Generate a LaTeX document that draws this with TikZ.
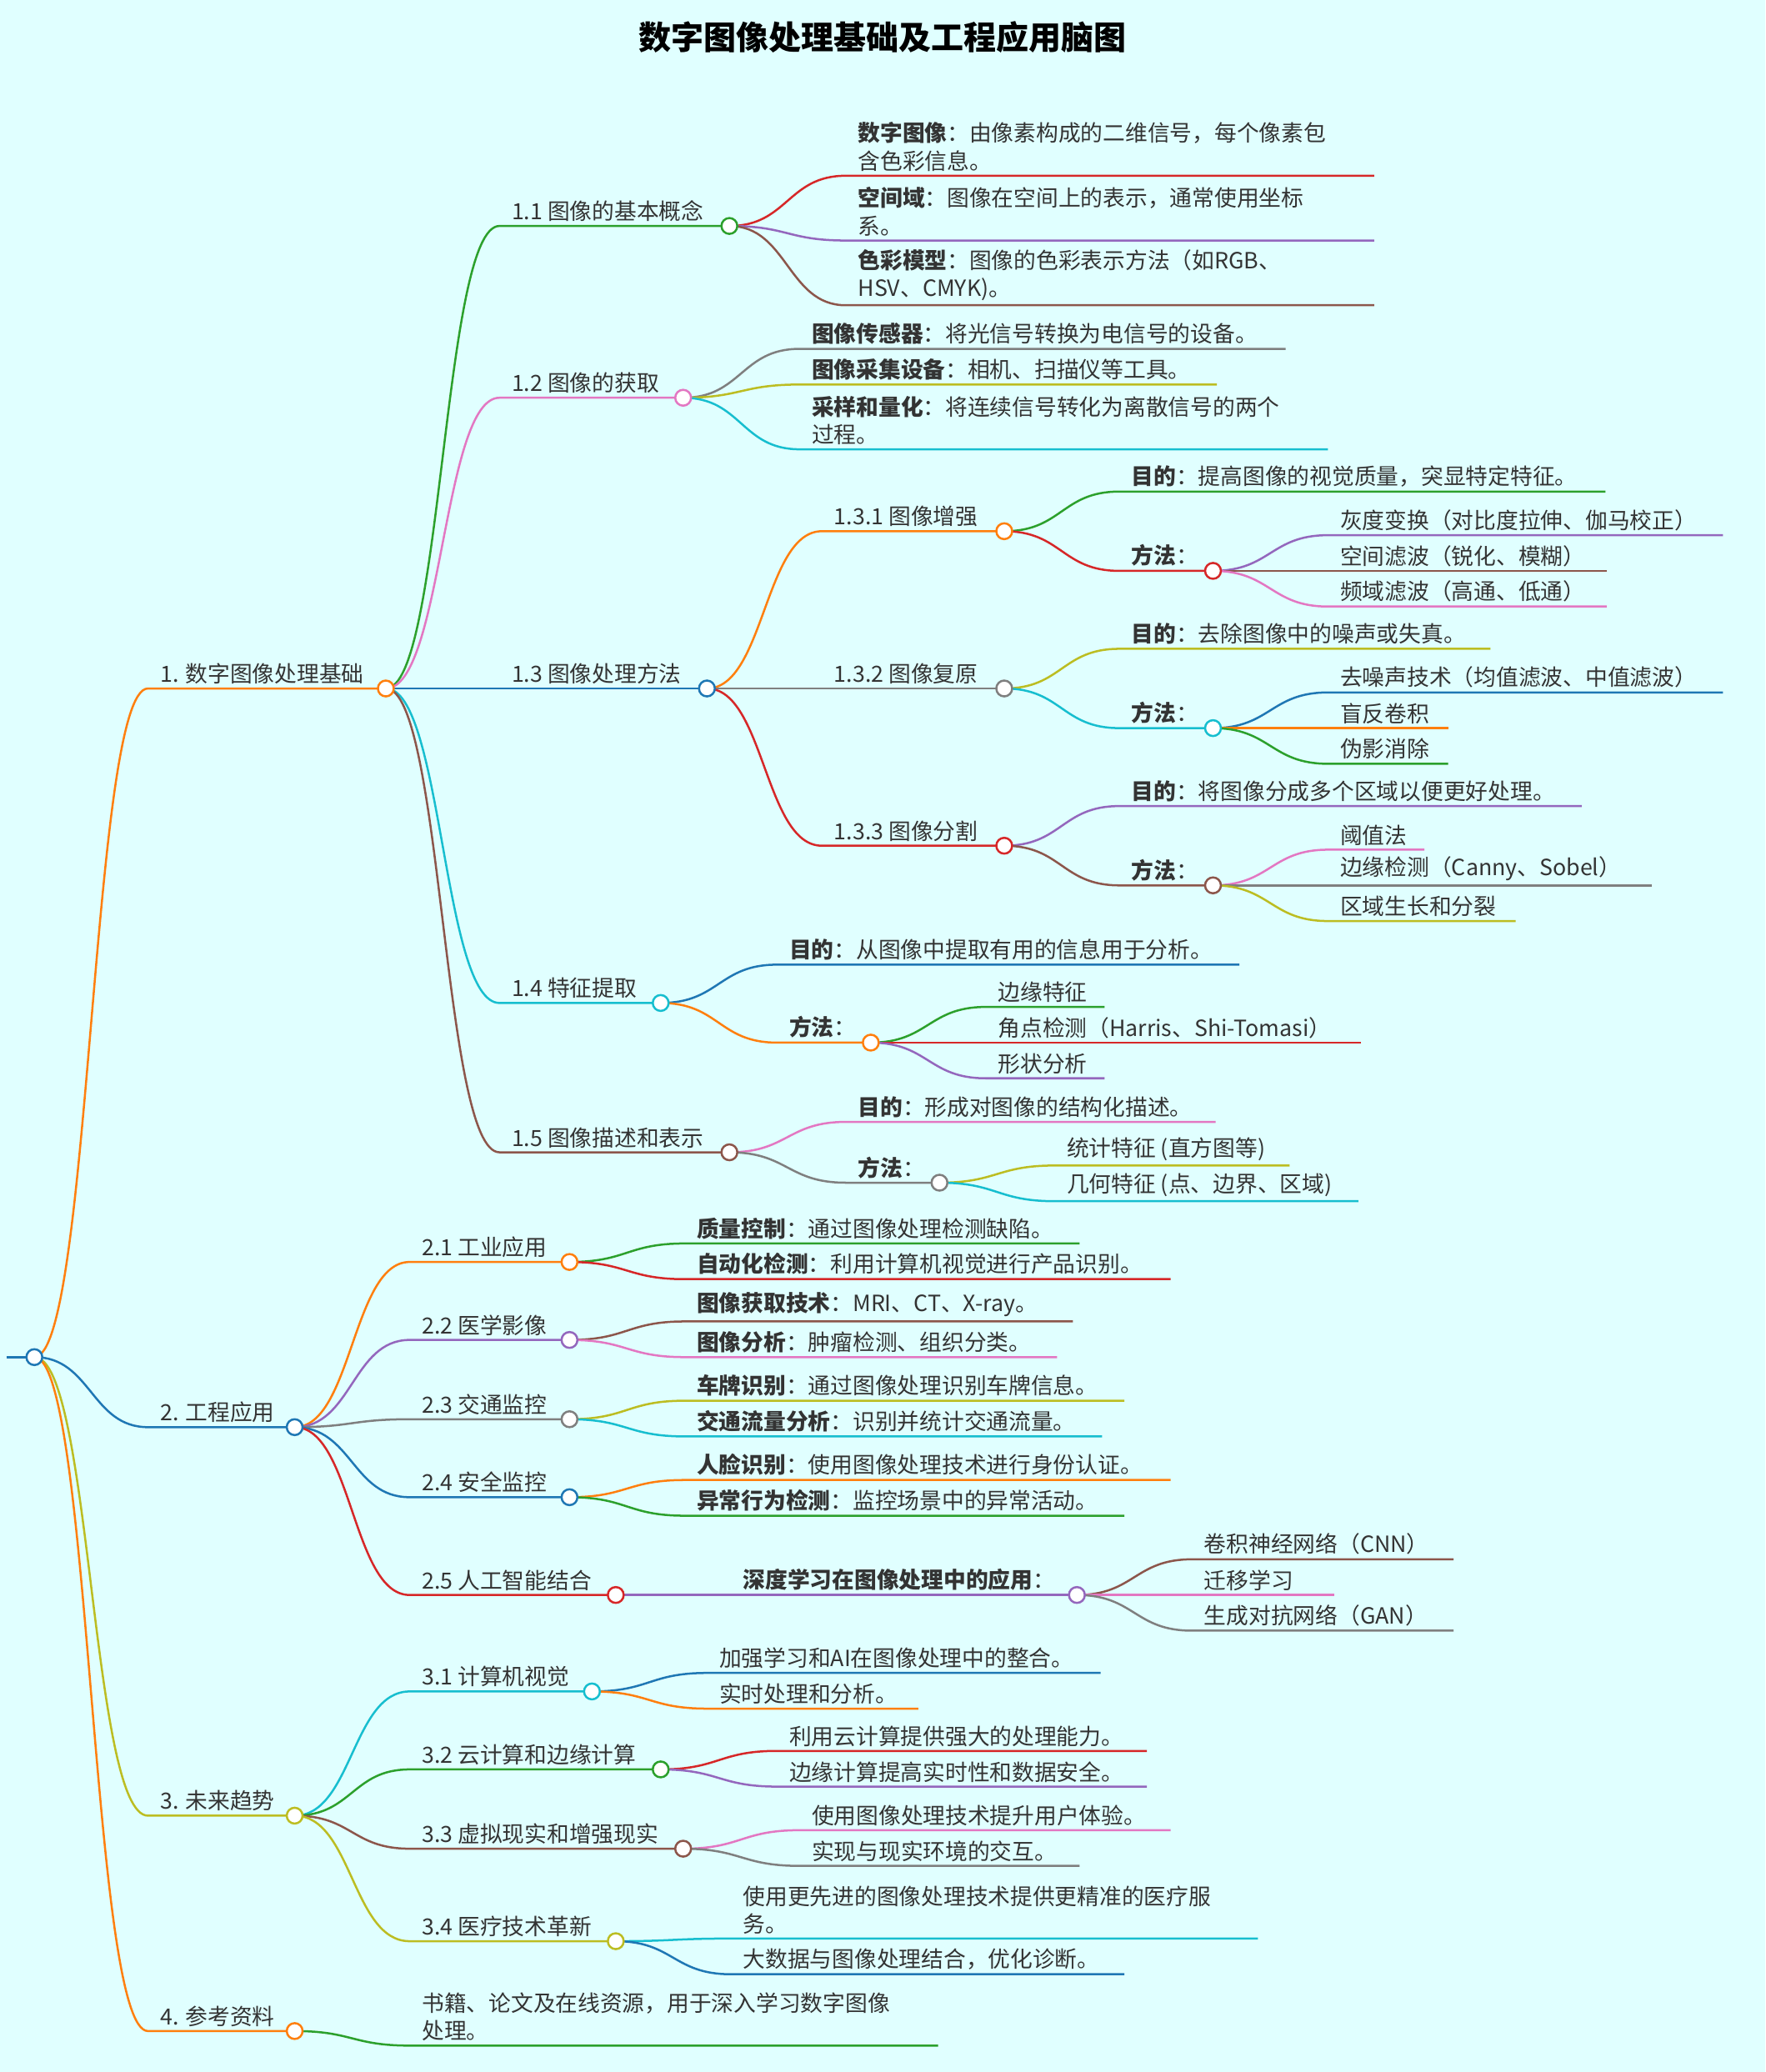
\documentclass[tikz,border=0pt]{standalone}
\usepackage{fontspec}
\setmainfont{Noto Sans CJK SC}
\usetikzlibrary{positioning}
\definecolor{mmbg}{HTML}{E0FFFF}
\definecolor{cblue}{HTML}{1F77B4}
\definecolor{corange}{HTML}{FF7F0E}
\definecolor{cgreen}{HTML}{2CA02C}
\definecolor{cred}{HTML}{D62728}
\definecolor{cpurple}{HTML}{9467BD}
\definecolor{cbrown}{HTML}{8C564B}
\definecolor{cpink}{HTML}{E377C2}
\definecolor{cgray}{HTML}{7F7F7F}
\definecolor{colive}{HTML}{BCBD22}
\definecolor{ccyan}{HTML}{17BECF}
\tikzset{
  mmedge/.style={draw=#1,line width=0.9pt},
  mmtext/.style={inner sep=0pt,align=left,anchor=south west,text=black!80,
    font=\fontsize{9.6}{12}\selectfont},
  mmdot/.style={circle,draw=#1,fill=white,line width=0.9pt,inner sep=0pt,minimum size=0.24cm}
}
% parent x, parent y, child x, child y, end x, colour, name, text
\newcommand\mmline[8]{%
  \draw[mmedge=#6] (#1,#2) .. controls ({(#1+#3)/2},#2) and ({(#1+#3)/2},#4) .. (#3,#4) -- (#5,#4);
  \node[mmtext] (#7) at ({#3+9},{#4-3}) {#8};
}
\begin{document}
\begin{tikzpicture}[x=0.02cm,y=-0.02cm]
\useasboundingbox[fill=mmbg] (0,0) rectangle (1336,1568);
\node[font=\fontsize{14}{16}\selectfont\bfseries] (title) at (668,28) {数字图像处理基础及工程应用脑图};
\draw[mmedge=cblue] (5,1027) -- (26,1027);

% level 1
\mmline{26}{1027}{112}{521}{292}{corange}{n1}{1. 数字图像处理基础}
\mmline{26}{1027}{112}{1080}{223}{cblue}{n2}{2. 工程应用}
\mmline{26}{1027}{112}{1374}{223}{colive}{n3}{3. 未来趋势}
\mmline{26}{1027}{112}{1537}{223}{corange}{n4}{4. 参考资料}

% 1
\mmline{292}{521}{378}{171}{552}{cgreen}{n11}{1.1 图像的基本概念}
\mmline{292}{521}{378}{301}{517}{cpink}{n12}{1.2 图像的获取}
\mmline{292}{521}{378}{521}{535}{cblue}{n13}{1.3 图像处理方法}
\mmline{292}{521}{378}{759}{500}{ccyan}{n14}{1.4 特征提取}
\mmline{292}{521}{378}{872}{552}{cbrown}{n15}{1.5 图像描述和表示}

\mmline{552}{171}{640}{133}{1040}{cred}{n111}{\textbf{数字图像}：由像素构成的二维信号，每个像素包\\含色彩信息。}
\mmline{552}{171}{640}{182}{1040}{cpurple}{n112}{\textbf{空间域}：图像在空间上的表示，通常使用坐标\\系。}
\mmline{552}{171}{640}{231}{1040}{cbrown}{n113}{\textbf{色彩模型}：图像的色彩表示方法（如RGB、\\HSV、CMYK)。}

\mmline{517}{301}{605}{264}{973}{cgray}{n121}{\textbf{图像传感器}：将光信号转换为电信号的设备。}
\mmline{517}{301}{605}{291}{921}{colive}{n122}{\textbf{图像采集设备}：相机、扫描仪等工具。}
\mmline{517}{301}{605}{340}{1005}{ccyan}{n123}{\textbf{采样和量化}：将连续信号转化为离散信号的两个\\过程。}

\mmline{535}{521}{622}{402}{760}{corange}{n131}{1.3.1 图像增强}
\mmline{535}{521}{622}{521}{760}{cgray}{n132}{1.3.2 图像复原}
\mmline{535}{521}{622}{640}{760}{cred}{n133}{1.3.3 图像分割}

\mmline{760}{402}{847}{372}{1215}{cgreen}{n1311}{\textbf{目的}：提高图像的视觉质量，突显特定特征。}
\mmline{760}{402}{847}{432}{918}{cred}{n1312}{\textbf{方法}：}
\mmline{918}{432}{1005}{405}{1304}{cpurple}{m11}{灰度变换（对比度拉伸、伽马校正）}
\mmline{918}{432}{1005}{432}{1216}{cbrown}{m12}{空间滤波（锐化、模糊）}
\mmline{918}{432}{1005}{459}{1216}{cpink}{m13}{频域滤波（高通、低通）}

\mmline{760}{521}{847}{491}{1128}{colive}{n1321}{\textbf{目的}：去除图像中的噪声或失真。}
\mmline{760}{521}{847}{551}{918}{ccyan}{n1322}{\textbf{方法}：}
\mmline{918}{551}{1005}{524}{1304}{cblue}{m21}{去噪声技术（均值滤波、中值滤波）}
\mmline{918}{551}{1005}{551}{1096}{corange}{m22}{盲反卷积}
\mmline{918}{551}{1005}{578}{1096}{cgreen}{m23}{伪影消除}

\mmline{760}{640}{847}{610}{1197}{cpurple}{n1331}{\textbf{目的}：将图像分成多个区域以便更好处理。}
\mmline{760}{640}{847}{670}{918}{cbrown}{n1332}{\textbf{方法}：}
\mmline{918}{670}{1005}{643}{1078}{cpink}{m31}{阈值法}
\mmline{918}{670}{1005}{670}{1250}{cgray}{m32}{边缘检测（Canny、Sobel）}
\mmline{918}{670}{1005}{697}{1147}{colive}{m33}{区域生长和分裂}

\mmline{500}{759}{588}{730}{938}{cblue}{n141}{\textbf{目的}：从图像中提取有用的信息用于分析。}
\mmline{500}{759}{588}{789}{659}{corange}{n142}{\textbf{方法}：}
\mmline{659}{789}{746}{762}{836}{cgreen}{m41}{边缘特征}
\mmline{659}{789}{746}{789}{1030}{cred}{m42}{角点检测（Harris、Shi-Tomasi）}
\mmline{659}{789}{746}{816}{836}{cpurple}{m43}{形状分析}

\mmline{552}{872}{640}{849}{920}{cpink}{n151}{\textbf{目的}：形成对图像的结构化描述。}
\mmline{552}{872}{640}{895}{711}{cgray}{n152}{\textbf{方法}：}
\mmline{711}{895}{798}{882}{976}{colive}{m51}{统计特征 (直方图等)}
\mmline{711}{895}{798}{909}{1028}{ccyan}{m52}{几何特征 (点、边界、区域)}

% 2
\mmline{223}{1080}{310}{955}{431}{corange}{n21}{2.1 工业应用}
\mmline{223}{1080}{310}{1014}{431}{cpurple}{n22}{2.2 医学影像}
\mmline{223}{1080}{310}{1074}{431}{cgray}{n23}{2.3 交通监控}
\mmline{223}{1080}{310}{1133}{431}{cblue}{n24}{2.4 安全监控}
\mmline{223}{1080}{310}{1207}{466}{cred}{n25}{2.5 人工智能结合}

\mmline{431}{955}{518}{941}{817}{cgreen}{n211}{\textbf{质量控制}：通过图像处理检测缺陷。}
\mmline{431}{955}{518}{968}{886}{cred}{n212}{\textbf{自动化检测}：利用计算机视觉进行产品识别。}
\mmline{431}{1014}{518}{1000}{812}{cbrown}{n221}{\textbf{图像获取技术}：MRI、CT、X-ray。}
\mmline{431}{1014}{518}{1027}{800}{cpink}{n222}{\textbf{图像分析}：肿瘤检测、组织分类。}
\mmline{431}{1074}{518}{1060}{851}{colive}{n231}{\textbf{车牌识别}：通过图像处理识别车牌信息。}
\mmline{431}{1074}{518}{1087}{834}{ccyan}{n232}{\textbf{交通流量分析}：识别并统计交通流量。}
\mmline{431}{1133}{518}{1120}{886}{corange}{n241}{\textbf{人脸识别}：使用图像处理技术进行身份认证。}
\mmline{431}{1133}{518}{1147}{851}{cgreen}{n242}{\textbf{异常行为检测}：监控场景中的异常活动。}
\mmline{466}{1207}{553}{1207}{815}{cpurple}{n251}{\textbf{深度学习在图像处理中的应用}：}
\mmline{815}{1207}{902}{1180}{1100}{cbrown}{m61}{卷积神经网络（CNN）}
\mmline{815}{1207}{902}{1207}{1010}{cpink}{m62}{迁移学习}
\mmline{815}{1207}{902}{1234}{1100}{cgray}{m63}{生成对抗网络（GAN）}

% 3
\mmline{223}{1374}{310}{1280}{448}{ccyan}{n31}{3.1 计算机视觉}
\mmline{223}{1374}{310}{1339}{500}{cgreen}{n32}{3.2 云计算和边缘计算}
\mmline{223}{1374}{310}{1399}{517}{cbrown}{n33}{3.3 虚拟现实和增强现实}
\mmline{223}{1374}{310}{1469}{466}{colive}{n34}{3.4 医疗技术革新}

\mmline{448}{1280}{535}{1266}{833}{cblue}{n311}{加强学习和AI在图像处理中的整合。}
\mmline{448}{1280}{535}{1293}{695}{corange}{n312}{实时处理和分析。}
\mmline{500}{1339}{588}{1325}{868}{cred}{n321}{利用云计算提供强大的处理能力。}
\mmline{500}{1339}{588}{1352}{868}{cpurple}{n322}{边缘计算提高实时性和数据安全。}
\mmline{517}{1399}{605}{1385}{886}{cpink}{n331}{使用图像处理技术提升用户体验。}
\mmline{517}{1399}{605}{1412}{817}{cgray}{n332}{实现与现实环境的交互。}
\mmline{466}{1469}{553}{1467}{952}{ccyan}{n341}{使用更先进的图像处理技术提供更精准的医疗服\\务。}
\mmline{466}{1469}{553}{1494}{851}{cblue}{n342}{大数据与图像处理结合，优化诊断。}

% 4
\mmline{223}{1537}{310}{1548}{710}{cgreen}{n41}{书籍、论文及在线资源，用于深入学习数字图像\\处理。}

% dots on top
\foreach \x/\y/\c in {26/1027/cblue,292/521/corange,223/1080/cblue,223/1374/colive,223/1537/corange,
  552/171/cgreen,517/301/cpink,535/521/cblue,500/759/ccyan,552/872/cbrown,
  760/402/corange,760/521/cgray,760/640/cred,918/432/cred,918/551/ccyan,918/670/cbrown,
  659/789/corange,711/895/cgray,
  431/955/corange,431/1014/cpurple,431/1074/cgray,431/1133/cblue,466/1207/cred,815/1207/cpurple,
  448/1280/ccyan,500/1339/cgreen,517/1399/cbrown,466/1469/colive}
  \node[mmdot=\c] at (\x,\y) {};
\end{tikzpicture}
\end{document}
